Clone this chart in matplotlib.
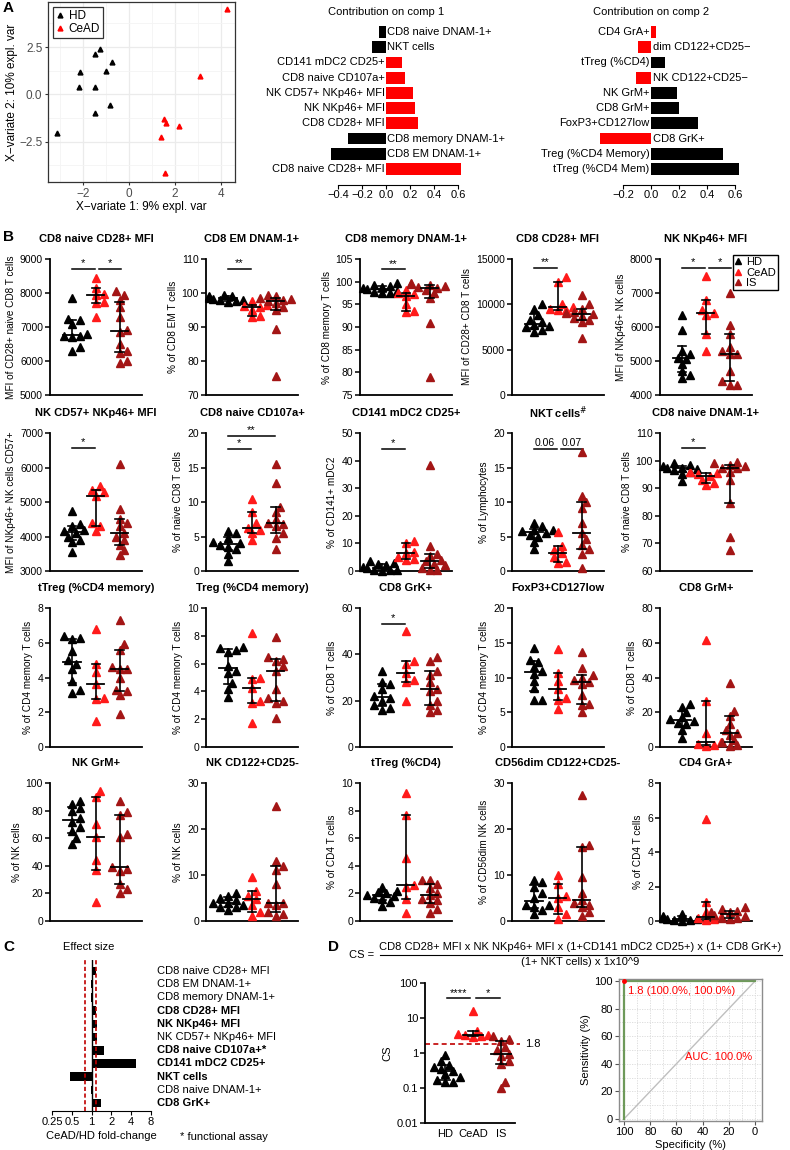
import numpy as np
import matplotlib
matplotlib.use("Agg")
import matplotlib.pyplot as plt
from matplotlib.lines import Line2D

plt.rcParams['font.family'] = ['Liberation Sans', 'DejaVu Sans']
NARROW = ['Liberation Sans Narrow', 'Liberation Sans', 'DejaVu Sans']

W, H = 790, 1150
C_HD, C_CEAD, C_IS = 'black', '#FF1A1A', '#A31515'

# ---------------- data: panel A ----------------
hd_x = [-3.16, -2.14, -2.19, -1.48, -1.27, -1.47, -1.48, -1.00, -0.76, -0.83]
hd_y = [-2.03, 1.18, 0.40, 2.11, 2.40, 0.36, -1.01, 1.25, 1.71, -0.58]
cead_x = [4.27, 3.11, 1.54, 1.60, 2.18, 1.41, 1.55]
cead_y = [4.49, 0.97, -1.31, -1.50, -1.68, -2.24, -4.18]

comp1_labels = ["CD8 naive DNAM-1+", "NKT cells", "CD141 mDC2 CD25+", "CD8 naive CD107a+",
                "NK CD57+ NKp46+ MFI", "NK NKp46+ MFI", "CD8 CD28+ MFI",
                "CD8 memory DNAM-1+", "CD8 EM DNAM-1+", "CD8 naive CD28+ MFI"]
comp1_values = [-0.06, -0.115, 0.135, 0.155, 0.225, 0.245, 0.265, -0.32, -0.46, 0.625]
comp1_group = ['HD', 'HD', 'CeAD', 'CeAD', 'CeAD', 'CeAD', 'CeAD', 'HD', 'HD', 'CeAD']

comp2_labels = ["CD4 GrA+", "dim CD122+CD25\u2212", "tTreg (%CD4)", "NK CD122+CD25\u2212",
                "NK GrM+", "CD8 GrM+", "FoxP3+CD127low", "CD8 GrK+",
                "Treg (%CD4 Memory)", "tTreg (%CD4 Mem)"]
comp2_values = [0.038, -0.093, 0.10, -0.107, 0.186, 0.198, 0.333, -0.362, 0.514, 0.629]
comp2_group = ['CeAD', 'CeAD', 'HD', 'CeAD', 'HD', 'HD', 'HD', 'CeAD', 'HD', 'HD']

# ---------------- data: panel B (HD, CeAD, IS per marker) ----------------
titles = ["CD8 naive CD28+ MFI", "CD8 EM DNAM-1+", "CD8 memory DNAM-1+", "CD8 CD28+ MFI", "NK NKp46+ MFI",
          "NK CD57+ NKp46+ MFI", "CD8 naive CD107a+", "CD141 mDC2 CD25+", "NKT cells$^{\\#}$", "CD8 naive DNAM-1+",
          "tTreg (%CD4 memory)", "Treg (%CD4 memory)", "CD8 GrK+", "FoxP3+CD127low", "CD8 GrM+",
          "NK GrM+", "NK CD122+CD25-", "tTreg (%CD4)", "CD56dim CD122+CD25-", "CD4 GrA+"]
ylabels = ["MFI of CD28+ naive CD8 T cells", "% of CD8 EM T cells", "% of CD8 memory T cells",
           "MFI of CD28+ CD8 T cells", "MFI of NKp46+ NK cells",
           "MFI of NKp46+ NK cells CD57+", "% of naive CD8 T cells", "% of CD141+ mDC2",
           "% of Lymphocytes", "% of naive CD8 T cells",
           "% of CD4 memory T cells", "% of CD4 memory T cells", "% of CD8 T cells",
           "% of CD4 memory T cells", "% of CD8 T cells",
           "% of NK cells", "% of NK cells", "% of CD4 T cells", "% of CD56dim NK cells", "% of CD4 T cells"]

hd_01 = [7850, 7250, 7200, 7100, 6800, 6750, 6700, 6750, 6400, 6300]
cead_01 = [8450, 8150, 7980, 7950, 7750, 7700, 7300]
is_01 = [8050, 7950, 7800, 7600, 7300, 6900, 6850, 6500, 6300, 6250, 5950, 6000]
hd_02 = [99.5, 99.2, 99.0, 98.8, 98.5, 98.3, 98.0, 97.8, 97.6, 97.4]
cead_02 = [97.5, 96.5, 96.2, 96.0, 95.0, 93.2, 93.0]
is_02 = [99.5, 99.0, 98.5, 98.2, 98.0, 97.5, 97.0, 96.0, 95.0, 89.5, 75.5]
hd_03 = [99.6, 99.3, 99.0, 98.8, 98.5, 98.3, 98.0, 97.8, 97.6, 97.4]
cead_03 = [98.2, 97.6, 97.2, 96.8, 95.0, 93.5, 93.2]
is_03 = [99.8, 99.5, 99.3, 99.0, 98.8, 98.6, 98.2, 97.5, 96.4, 90.9, 79.0]
hd_04 = [10000, 9500, 8800, 8300, 8000, 7700, 7600, 7500, 7200, 7000]
cead_04 = [13000, 12500, 10000, 9700, 9500, 9400, 9400]
is_04 = [11000, 10000, 9500, 9200, 9000, 8900, 8700, 8500, 8300, 8000, 6300]
hd_05 = [6350, 5900, 5300, 5200, 5100, 5050, 4900, 4700, 4600, 4500]
cead_05 = [7500, 6800, 6500, 6400, 6350, 5800, 5300]
is_05 = [7000, 6050, 5800, 5400, 5300, 5200, 5200, 4700, 4400, 4300, 4300]
hd_06 = [4750, 4350, 4300, 4200, 4150, 4100, 4000, 3900, 3850, 3550]
cead_06 = [5450, 5350, 5300, 5180, 4400, 4300, 4150]
is_06 = [6100, 4800, 4500, 4400, 4300, 4100, 4000, 3900, 3750, 3600, 3450]
hd_07 = [5.8, 5.5, 4.8, 4.2, 4.0, 3.8, 3.5, 3.2, 2.5, 1.5]
cead_07 = [10.5, 8.5, 7.0, 6.3, 6.0, 5.5, 4.5]
is_07 = [15.5, 12.7, 9.3, 8.5, 7.5, 7.0, 6.8, 6.5, 5.5, 4.8, 3.2]
hd_08 = [3.5, 3.0, 2.5, 2.0, 1.5, 1.0, 0.5, 0.3, 0.2, 0.1]
cead_08 = [11.0, 10.0, 7.0, 6.5, 5.0, 4.5, 4.0]
is_08 = [38.5, 9.0, 6.0, 5.5, 4.0, 3.5, 2.5, 2.0, 1.0, 0.5, 0.3]
hd_09 = [7.0, 6.5, 6.0, 6.0, 5.8, 5.5, 5.2, 5.0, 4.2, 3.2]
cead_09 = [5.7, 3.6, 3.0, 2.6, 2.0, 1.3, 1.1]
is_09 = [17.3, 10.8, 10.0, 9.2, 7.0, 5.5, 4.6, 3.8, 3.2, 2.5, 0.4]
hd_10 = [99.0, 98.5, 98.0, 97.5, 97.5, 97.0, 96.5, 96.0, 95.0, 92.5]
cead_10 = [96.0, 95.5, 95.0, 94.5, 93.0, 92.0, 91.0]
is_10 = [99.5, 99.0, 98.5, 98.0, 97.5, 97.2, 96.0, 93.0, 84.5, 72.5, 67.5]
hd_11 = [6.4, 6.3, 6.2, 5.5, 5.0, 4.8, 4.5, 3.8, 3.3, 3.1]
cead_11 = [6.8, 4.8, 4.3, 3.65, 2.8, 2.75, 1.5]
is_11 = [7.3, 5.9, 5.6, 4.6, 4.5, 4.5, 4.0, 3.3, 3.2, 3.0, 1.9]
hd_12 = [7.2, 7.1, 7.0, 6.8, 5.8, 5.5, 5.3, 4.6, 4.2, 3.6]
cead_12 = [8.2, 5.0, 4.9, 4.25, 3.3, 3.2, 1.7]
is_12 = [7.9, 6.5, 6.3, 6.2, 5.8, 5.5, 4.2, 3.5, 3.3, 3.2, 2.1]
hd_13 = [33, 28, 27, 25, 22, 21, 20, 18, 17, 16]
cead_13 = [50, 37, 36, 32, 29, 28, 20]
is_13 = [39, 37, 33, 31, 28, 25, 24, 20, 18, 16, 15]
hd_14 = [14.2, 12.5, 12.3, 11.5, 11.0, 10.5, 9.5, 8.5, 6.8, 6.8]
cead_14 = [14.1, 10.6, 9.5, 8.4, 7.0, 6.8, 5.5]
is_14 = [13.6, 11.4, 10.3, 10.0, 9.7, 9.4, 9.0, 7.5, 6.2, 6.0, 5.0]
hd_15 = [25, 23, 20, 17, 16, 15, 14, 13, 10, 5]
cead_15 = [61.5, 26.5, 8.0, 3.0, 2.0, 1.0, 0.5]
is_15 = [37, 21, 18, 13, 10, 8, 7, 4, 3, 1, 0.5]
hd_16 = [87, 85, 82, 80, 75, 72, 68, 65, 60, 56]
cead_16 = [94, 90, 70, 61, 44, 37, 14]
is_16 = [87, 79, 77, 63, 61, 39, 38, 36, 27, 23, 20]
hd_17 = [6.0, 5.5, 5.0, 4.5, 4.0, 4.0, 3.5, 3.0, 3.0, 2.5]
cead_17 = [9.5, 6.5, 5.5, 4.7, 3.5, 2.0, 1.0]
is_17 = [25, 13, 12, 11, 8, 4, 4, 3.5, 2, 1.5, 1]
hd_18 = [2.5, 2.2, 2.1, 2.0, 1.9, 1.8, 1.7, 1.6, 1.4, 1.1]
cead_18 = [9.3, 7.7, 4.6, 2.6, 2.5, 1.6, 0.6]
is_18 = [3.0, 3.0, 2.7, 2.4, 2.0, 1.85, 1.6, 1.5, 1.3, 0.9, 0.6]
hd_19 = [9.0, 8.5, 7.5, 6.0, 5.0, 3.5, 3.5, 3.0, 2.5, 1.5]
cead_19 = [10.0, 8.0, 5.5, 5.0, 3.0, 1.5, 0.5]
is_19 = [27.5, 16.5, 16.0, 9.5, 6.0, 4.5, 4.0, 3.5, 3.0, 2.0, 1.0]
hd_20 = [0.4, 0.3, 0.25, 0.2, 0.15, 0.12, 0.1, 0.05, 0.05, 0.02]
cead_20 = [5.9, 1.1, 0.5, 0.25, 0.15, 0.1, 0.05]
is_20 = [0.8, 0.7, 0.6, 0.5, 0.5, 0.4, 0.35, 0.3, 0.2, 0.15, 0.1]

hd_all = [hd_01, hd_02, hd_03, hd_04, hd_05, hd_06, hd_07, hd_08, hd_09, hd_10,
          hd_11, hd_12, hd_13, hd_14, hd_15, hd_16, hd_17, hd_18, hd_19, hd_20]
cead_all = [cead_01, cead_02, cead_03, cead_04, cead_05, cead_06, cead_07, cead_08, cead_09, cead_10,
            cead_11, cead_12, cead_13, cead_14, cead_15, cead_16, cead_17, cead_18, cead_19, cead_20]
is_all = [is_01, is_02, is_03, is_04, is_05, is_06, is_07, is_08, is_09, is_10,
          is_11, is_12, is_13, is_14, is_15, is_16, is_17, is_18, is_19, is_20]

# y axis ranges
y_ticks = [[5000, 6000, 7000, 8000, 9000], [70, 80, 90, 100, 110], [75, 80, 85, 90, 95, 100, 105],
           [0, 5000, 10000, 15000], [4000, 5000, 6000, 7000, 8000],
           [3000, 4000, 5000, 6000, 7000], [0, 5, 10, 15, 20], [0, 10, 20, 30, 40, 50],
           [0, 5, 10, 15, 20], [60, 70, 80, 90, 100, 110],
           [0, 2, 4, 6, 8], [0, 2, 4, 6, 8, 10], [0, 20, 40, 60], [0, 5, 10, 15, 20], [0, 20, 40, 60, 80],
           [0, 20, 40, 60, 80, 100], [0, 10, 20, 30], [0, 2, 4, 6, 8, 10], [0, 10, 20, 30], [0, 2, 4, 6, 8]]
# significance: (group a, group b, label, y value)
sig = {0: [(0, 1, '*', 8700), (1, 2, '*', 8700)], 1: [(0, 1, '**', 107)], 2: [(0, 1, '**', 102.7)],
       3: [(0, 1, '**', 14000)], 4: [(0, 1, '*', 7730), (1, 2, '*', 7730)], 5: [(0, 1, '*', 6560)],
       6: [(0, 1, '*', 17.7), (0, 2, '**', 19.6)], 7: [(0, 1, '*', 44.2)],
       8: [(0, 1, '0.06', 17.7), (1, 2, '0.07', 17.7)], 9: [(0, 1, '*', 104.6)], 12: [(0, 1, '*', 53)]}

# ---------------- data: panel C ----------------
eff_labels = ["CD8 naive CD28+ MFI", "CD8 EM DNAM-1+", "CD8 memory DNAM-1+", "CD8 CD28+ MFI",
              "NK NKp46+ MFI", "NK CD57+ NKp46+ MFI", "CD8 naive CD107a+*", "CD141 mDC2 CD25+",
              "NKT cells", "CD8 naive DNAM-1+", "CD8 GrK+"]
eff_fold = [1.17, 0.97, 0.98, 1.18, 1.2, 1.2, 1.55, 4.75, 0.47, 0.97, 1.39]
eff_bold = [False, False, False, True, True, False, True, True, True, False, True]
eff_thresholds = [0.78, 1.17]

# ---------------- data: panel D ----------------
cs_hd = [0.85, 0.6, 0.45, 0.4, 0.35, 0.3, 0.25, 0.2, 0.17, 0.15, 0.15]
cs_cead = [16.0, 4.2, 3.5, 3.3, 3.2, 3.0, 2.9]
cs_is = [3.0, 2.5, 2.2, 1.5, 1.2, 0.95, 0.8, 0.6, 0.5, 0.15, 0.1]
cs_cutoff = 1.8
roc_spec = [100, 100, 0]
roc_sens = [0, 100, 100]

fig = plt.figure(figsize=(7.9, 11.5), dpi=100)


def add_ax(x0, y0, x1, y1):
    return fig.add_axes([x0 / W, 1 - y1 / H, (x1 - x0) / W, (y1 - y0) / H])


def ftext(x, y, s, **kw):
    fig.text(x / W, 1 - y / H, s, **kw)


def swarm(vals, tr, hpx, upx, d=7.0):
    ypx = np.array([tr(v) for v in vals]) * hpx
    placed, offs = [], np.zeros(len(vals))
    for i in np.argsort(ypx):
        for k in [0, 1, -1, 2, -2, 3, -3, 4, -4, 5, -5]:
            x = k * d * 0.55
            if all((x - px) ** 2 + (ypx[i] - py) ** 2 >= d * d * 0.8 for px, py in placed):
                break
        placed.append((x, ypx[i]))
        offs[i] = x / upx
    return offs


def dot_group(ax, pos, vals, color, tr, hpx, upx, ms=5.7):
    offs = swarm(vals, tr, hpx, upx)
    ax.plot(pos + offs, vals, '^', color=color, ms=ms, mec=color, zorder=3, clip_on=False)
    q1, med, q3 = np.percentile(vals, [25, 50, 75], method='weibull')
    ax.plot([pos - 0.36, pos + 0.36], [med, med], color='black', lw=1.3, zorder=4)
    ax.plot([pos, pos], [q1, q3], color='black', lw=1.2, zorder=4)
    for q in (q1, q3):
        ax.plot([pos - 0.18, pos + 0.18], [q, q], color='black', lw=1.2, zorder=4)


# ================= Panel A =================
ftext(3, 8, 'A', fontsize=11, fontweight='bold', va='center')
ax = add_ax(48, 2, 235, 182)
ax.set_facecolor('white')
for v in np.arange(-3, 5, 1.0):
    ax.axvline(v, color='#EBEBEB' if v % 2 == 0 else '#F4F4F4', lw=0.9 if v % 2 == 0 else 0.6, zorder=0)
for v in np.arange(-3.75, 5, 1.25):
    major = abs(v / 2.5 - round(v / 2.5)) < 1e-6
    ax.axhline(v, color='#EBEBEB' if major else '#F4F4F4', lw=0.9 if major else 0.6, zorder=0)
ax.plot(hd_x, hd_y, '^', color=C_HD, ms=3.5, label='HD', zorder=3)
ax.plot(cead_x, cead_y, '^', color='#FF0000', ms=3.5, label='CeAD', zorder=3)
ax.set_xlim(-3.54, 4.63)
ax.set_ylim(-4.64, 4.88)
ax.set_xticks([-2, 0, 2, 4])
ax.set_xticklabels(['\u22122', '0', '2', '4'])
ax.set_yticks([-2.5, 0, 2.5])
ax.set_yticklabels(['\u22122.5', '0.0', '2.5'])
ax.tick_params(labelsize=8.5, length=2.5, color='#333333', labelcolor='#4D4D4D', pad=1.5)
for s in ax.spines.values():
    s.set_color('#333333')
    s.set_linewidth(0.9)
ax.set_xlabel('X\u2212variate 1: 9% expl. var', fontsize=8.5, labelpad=1)
ax.set_ylabel('X\u2212variate 2: 10% expl. var', fontsize=8.5, labelpad=1)
leg = ax.legend(loc='upper left', fontsize=8.5, handlelength=0.8, handletextpad=0.3, borderpad=0.25,
                labelspacing=0.1, borderaxespad=0.4, fancybox=False, framealpha=1)
leg.get_frame().set_edgecolor('#333333')
leg.get_frame().set_linewidth(0.9)


def comp_plot(x0, x1, zero_px, upx, labels, values, groups, ticks, title):
    ax = add_ax(x0, 24.4, x1, 176.6)
    ax.set_xlim(-(zero_px - x0) / upx, (x1 - zero_px) / upx)
    ax.set_ylim(9.5, -0.5)
    cols = ['#FF0000' if g == 'CeAD' else 'black' for g in groups]
    ax.barh(range(len(values)), values, height=0.77, color=cols)
    for i, (lab, v) in enumerate(zip(labels, values)):
        if v >= 0:
            ax.text(-0.012, i, lab, ha='right', va='center', fontsize=8)
        else:
            ax.text(0.012, i, lab, ha='left', va='center', fontsize=8)
    for s in ['top', 'right', 'left']:
        ax.spines[s].set_visible(False)
    ax.spines['bottom'].set_position(('outward', 6))
    ax.spines['bottom'].set_bounds(ticks[0], ticks[-1])
    ax.set_xticks(ticks)
    ax.set_xticklabels([('\u2212%.1f' % -t) if t < 0 else '%.1f' % t for t in ticks])
    ax.set_yticks([])
    ax.tick_params(axis='x', labelsize=8, length=3, pad=1)
    ax.patch.set_visible(False)
    ftext(zero_px, 12, title, ha='center', va='center', fontsize=8)


comp_plot(258, 520, 386, 120, comp1_labels, comp1_values, comp1_group,
          [-0.4, -0.2, 0.0, 0.2, 0.4, 0.6], 'Contribution on comp 1')
comp_plot(530, 788, 651, 140, comp2_labels, comp2_values, comp2_group,
          [-0.2, 0.0, 0.2, 0.4, 0.6], 'Contribution on comp 2')

# ================= Panel B =================
ftext(3, 237, 'B', fontsize=11, fontweight='bold', va='center')
col_left = [50, 206, 360, 512, 660]
row_top = [259, 433, 608, 783]
row_bot = [395, 571, 747, 921]
AXW = 92
for k in range(20):
    r, c = divmod(k, 5)
    x0, y0, y1 = col_left[c], row_top[r], row_bot[r]
    ax = add_ax(x0, y0, x0 + AXW, y1)
    ticks = y_ticks[k]
    lo, hi = ticks[0], ticks[-1]
    ax.set_ylim(lo, hi)
    ax.set_xlim(-0.92, 2.93)
    upx = AXW / 3.85
    tr = lambda v, lo=lo, hi=hi: (v - lo) / (hi - lo)
    for pos, vals, col in [(0, hd_all[k], C_HD), (1, cead_all[k], C_CEAD), (2, is_all[k], C_IS)]:
        dot_group(ax, pos, vals, col, tr, y1 - y0, upx)
    for (a, b, lab, yv) in sig.get(k, []):
        xa = a - 0.02 if a == 0 else a + 0.12
        xb = b - 0.05 if a == 0 else b + 0.05
        ax.plot([xa, xb], [yv, yv], color='black', lw=1.1, clip_on=False)
        ax.text((xa + xb) / 2, yv + (hi - lo) * 0.005, lab, ha='center', va='bottom',
                fontsize=8 if '*' in lab else 7.5)
    ax.set_yticks(ticks)
    ax.set_xticks([])
    for s in ['top', 'right']:
        ax.spines[s].set_visible(False)
    for s in ['left', 'bottom']:
        ax.spines[s].set_linewidth(1.3)
    ax.tick_params(axis='y', labelsize=7.5, length=3.5, width=1.1, pad=1.5)
    ax.set_ylabel(ylabels[k], fontsize=7.2, labelpad=3)
    ax.patch.set_visible(False)
    ftext(x0 + AXW / 2, y0 - 20, titles[k], ha='center', va='center', fontsize=8, fontweight='bold')
    if k == 4:
        hs = [Line2D([], [], marker='^', ls='', color=cc, ms=5) for cc in (C_HD, C_CEAD, C_IS)]
        lg = ax.legend(hs, ['HD', 'CeAD', 'IS'], loc='upper left', bbox_to_anchor=(0.79, 1.03),
                       fontsize=8, handlelength=0.6, handletextpad=0.4, borderpad=0.2,
                       labelspacing=0.05, fancybox=False, framealpha=1, borderaxespad=0)
        lg.get_frame().set_edgecolor('black')
        lg.get_frame().set_linewidth(1.0)

# ================= Panel C =================
ftext(3, 947, 'C', fontsize=11, fontweight='bold', va='center')
ftext(89, 947, 'Effect size', ha='center', va='center', fontsize=8, family=NARROW)
ax = add_ax(52, 960, 151, 1111)
ax.set_xscale('log', base=2)
ax.set_xlim(0.25, 8)
ax.set_ylim(10.6, -0.83)
for i, v in enumerate(eff_fold):
    ax.barh(i, abs(v - 1), left=min(v, 1), height=0.65, color='black', zorder=2)
ax.axvline(1, color='black', lw=1.0, zorder=3)
for t in eff_thresholds:
    ax.axvline(t, color='#C00000', lw=1.2, ls=(0, (2.5, 1.5)), zorder=3)
for s in ['top', 'right', 'left']:
    ax.spines[s].set_visible(False)
ax.set_yticks([])
ax.set_xticks([0.25, 0.5, 1, 2, 4, 8])
ax.set_xticklabels(['0.25', '0.5', '1', '2', '4', '8'], family=NARROW)
ax.minorticks_off()
ax.tick_params(axis='x', labelsize=8, length=3, pad=1)
ax.set_xlabel('CeAD/HD fold-change', fontsize=8, family=NARROW, labelpad=3)
for i, (lab, b) in enumerate(zip(eff_labels, eff_bold)):
    ax.text(9.8, i, lab, ha='left', va='center', fontsize=8, family=NARROW,
            fontweight='bold' if b else 'normal', clip_on=False)
ftext(180, 1137, '* functional assay', ha='left', va='center', fontsize=8, family=NARROW)

# ================= Panel D =================
ftext(328, 947, 'D', fontsize=11, fontweight='bold', va='center')
ftext(349, 955, 'CS =', ha='left', va='center', fontsize=8, family=NARROW)
ftext(580, 947, 'CD8 CD28+ MFI x NK NKp46+ MFI x (1+CD141 mDC2 CD25+) x (1+ CD8 GrK+)',
      ha='center', va='center', fontsize=8, family=NARROW)
ftext(580, 962, '(1+ NKT cells) x 1x10^9', ha='center', va='center', fontsize=8, family=NARROW)
fig.add_artist(Line2D([380 / W, 782 / W], [1 - 954.5 / H, 1 - 954.5 / H], color='black', lw=0.8))

ax = add_ax(425, 983, 515, 1123)
ax.set_yscale('log')
ax.set_ylim(0.01, 100)
ax.set_xlim(-0.72, 2.5)
trl = lambda v: (np.log10(v) + 2) / 4
for pos, vals, col in [(0, cs_hd, C_HD), (1, cs_cead, C_CEAD), (2, cs_is, C_IS)]:
    dot_group(ax, pos, vals, col, trl, 140, 28)
ax.plot([-0.72, 2.68], [cs_cutoff, cs_cutoff], color='#C00000', lw=1.2, ls=(0, (3, 2)), clip_on=False, zorder=1)
ax.text(2.85, cs_cutoff, '1.8', ha='left', va='center', fontsize=8, family=NARROW)
for (a, b, lab) in [(0, 1, '****'), (1, 2, '*')]:
    xa, xb = (a + 0.05, b - 0.1) if a == 0 else (a + 0.1, b - 0.05)
    ax.plot([xa, xb], [37, 37], color='black', lw=1.1)
    ax.text((xa + xb) / 2, 38, lab, ha='center', va='bottom', fontsize=8)
for s in ['top', 'right']:
    ax.spines[s].set_visible(False)
for s in ['left', 'bottom']:
    ax.spines[s].set_linewidth(1.3)
ax.set_yticks([0.01, 0.1, 1, 10, 100])
ax.set_yticklabels(['0.01', '0.1', '1', '10', '100'], family=NARROW)
ax.minorticks_off()
ax.set_xticks([0, 1, 2])
ax.set_xticklabels(['HD', 'CeAD', 'IS'], family=NARROW)
ax.tick_params(axis='x', length=0, labelsize=8, pad=4)
ax.tick_params(axis='y', length=3.5, width=1.1, labelsize=8, pad=1.5)
ax.set_ylabel('CS', fontsize=8, family=NARROW, labelpad=3)
ax.patch.set_visible(False)

ax = add_ax(619, 979, 762, 1121)
ax.set_xlim(103.8, -5.3)
ax.set_ylim(-1.5, 101.5)
for g in range(0, 101, 10):
    ax.axvline(g, color='#D9D9D9', lw=0.6, ls=(0, (1.5, 1.5)), zorder=0)
    ax.axhline(g, color='#D9D9D9', lw=0.6, ls=(0, (1.5, 1.5)), zorder=0)
ax.plot([100, 0], [0, 100], color='#BFBFBF', lw=1.0, zorder=1)
ax.plot(roc_spec, roc_sens, color='#6E9A5A', lw=1.6, zorder=2)
ax.plot([100], [100], 'o', color='#FF0000', ms=2.5, zorder=3)
ax.text(97, 93, '1.8 (100.0%, 100.0%)', color='#FF0000', ha='left', va='center', fontsize=8, family=NARROW)
ax.text(28, 45, 'AUC: 100.0%', color='#FF0000', ha='center', va='center', fontsize=8, family=NARROW)
ax.set_xticks([100, 80, 60, 40, 20, 0])
ax.set_yticks([0, 20, 40, 60, 80, 100])
ax.set_xticklabels(['100', '80', '60', '40', '20', '0'], family=NARROW)
ax.set_yticklabels(['0', '20', '40', '60', '80', '100'], family=NARROW)
ax.tick_params(labelsize=8, length=3, pad=1.5, color='#555555')
for s in ax.spines.values():
    s.set_color('#8C8C8C')
    s.set_linewidth(1.0)
ax.set_xlabel('Specificity (%)', fontsize=8, family=NARROW, labelpad=2)
ax.set_ylabel('Sensitivity (%)', fontsize=8, family=NARROW, labelpad=2)

fig.savefig('out.png', dpi=100)
